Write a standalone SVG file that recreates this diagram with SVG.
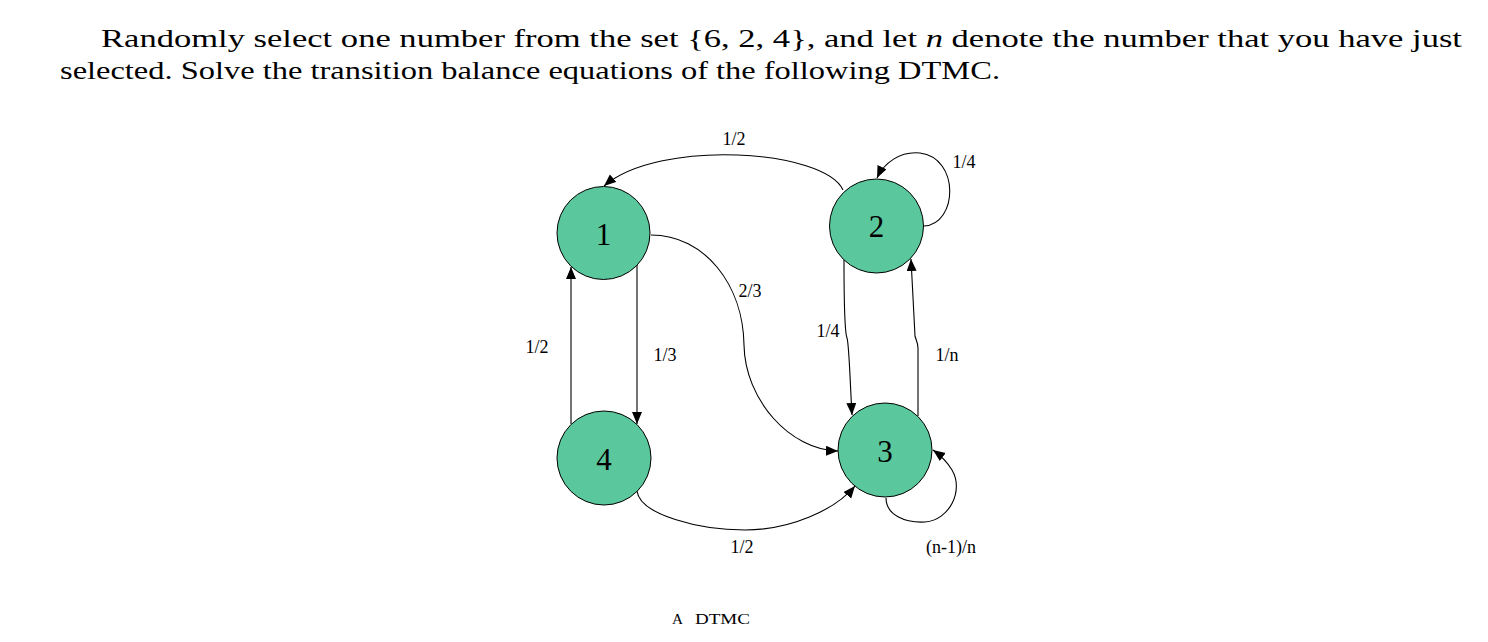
<svg xmlns="http://www.w3.org/2000/svg" width="1488" height="642" viewBox="0 0 1488 642">
<style>
.hdr{font-family:"Liberation Serif","Times New Roman",serif;font-size:25.5px;fill:#000}
.lbl{font-family:"Liberation Serif","Times New Roman",serif;font-size:18px;fill:#000;text-anchor:middle}
.num{font-family:"Liberation Serif","Times New Roman",serif;font-size:31px;fill:#000;text-anchor:middle}
.cap{font-family:"Liberation Serif","Times New Roman",serif;font-size:14.5px;fill:#000}
.node{fill:#5AC89C;stroke:#000;stroke-width:1}
.edge{fill:none;stroke:#000;stroke-width:1.1;marker-end:url(#arr)}
</style>
<defs>
<marker id="arr" markerUnits="userSpaceOnUse" markerWidth="13" markerHeight="11" refX="12" refY="5" orient="auto">
<path d="M0,0 L12,5 L0,10 z" fill="#000"/>
</marker>
</defs>
<rect width="1488" height="642" fill="#fff"/>
<text class="hdr" x="101" y="47" textLength="1361" lengthAdjust="spacingAndGlyphs">Randomly select one number from the set {6, 2, 4}, and let <tspan font-style="italic">n</tspan> denote the number that you have just</text>
<text class="hdr" x="60" y="79" textLength="940" lengthAdjust="spacingAndGlyphs">selected. Solve the transition balance equations of the following DTMC.</text>

<g id="connectors">
<path class="edge" d="M 843 190 C 825 150 660 138 604 186"/>
<path class="edge" d="M 924 226 C 958 224 960 158 920 153 C 900 151 884 163 877 178"/>
<path class="edge" d="M 651 235 C 705 235 743 285 744 345 C 745 400 790 450 838 451"/>
<path class="edge" d="M 637 265 L 637 424"/>
<path class="edge" d="M 571 424 L 571 267"/>
<path class="edge" d="M 844 260 C 844 300 845 333 847 338 C 849 343 850 380 852 415"/>
<path class="edge" d="M 918 416 L 918 348 C 918 343 916 340 915 336 L 911 259"/>
<path class="edge" d="M 637 491 C 640 515 700 530 745 530 C 790 530 835 510 855 486"/>
<path class="edge" d="M 886 498 C 886 515 905 523 925 522 C 950 520 964 490 952 470 C 946 460 940 455 933 450"/>
</g>

<g id="edge-labels">
<text class="lbl" x="734" y="145">1/2</text>
<text class="lbl" x="964" y="168">1/4</text>
<text class="lbl" x="750" y="297">2/3</text>
<text class="lbl" x="828" y="337">1/4</text>
<text class="lbl" x="665" y="361">1/3</text>
<text class="lbl" x="947" y="361">1/n</text>
<text class="lbl" x="537" y="353">1/2</text>
<text class="lbl" x="742" y="553">1/2</text>
<text class="lbl" x="951" y="553">(n-1)/n</text>
</g>

<g id="node1"><circle class="node" cx="603.5" cy="233" r="46.5"/><text class="num" x="603.5" y="245">1</text></g>
<g id="node2"><circle class="node" cx="876.5" cy="226" r="47"/><text class="num" x="876.5" y="237">2</text></g>
<g id="node3"><circle class="node" cx="885" cy="450" r="47"/><text class="num" x="885" y="462">3</text></g>
<g id="node4"><circle class="node" cx="604" cy="458" r="47"/><text class="num" x="604" y="470">4</text></g>

<text class="cap" y="624"><tspan x="672" textLength="11" lengthAdjust="spacingAndGlyphs">A</tspan><tspan x="695" textLength="55" lengthAdjust="spacingAndGlyphs">DTMC</tspan></text>
</svg>
